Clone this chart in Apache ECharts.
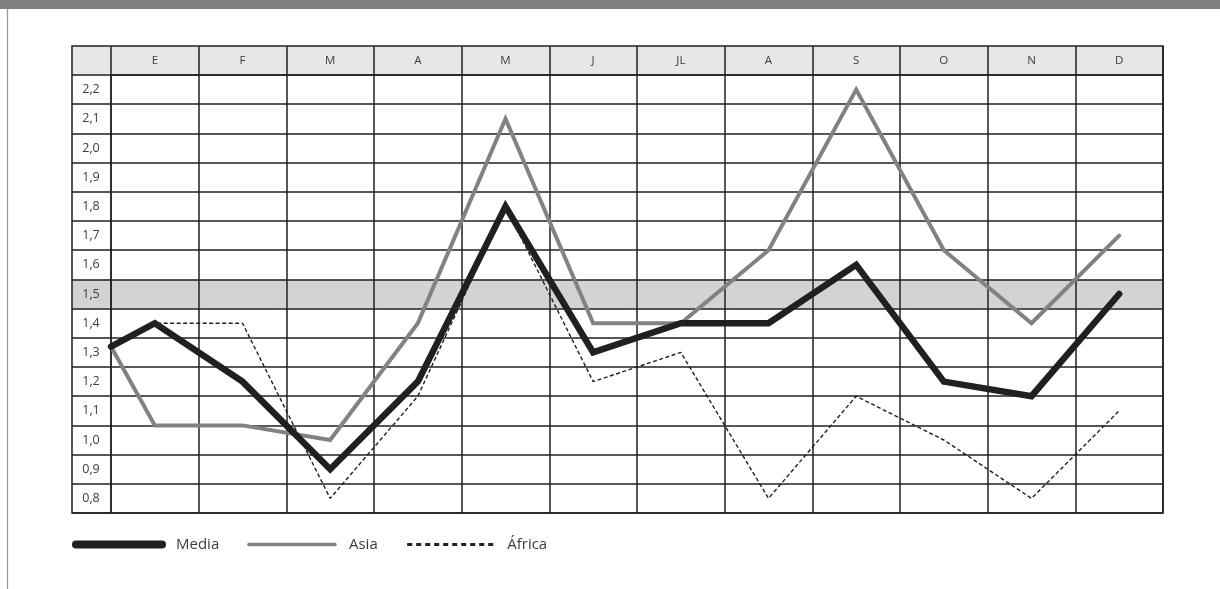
<!DOCTYPE html>
<html>
<head>
<meta charset="utf-8">
<script src="https://cdn.jsdelivr.net/npm/echarts@6/dist/echarts.min.js"></script>
<style>
html,body{margin:0;padding:0;background:#fff;}
#c{width:1220px;height:589px;}
</style>
</head>
<body>
<div id="c"></div>
<script>
// ---- data ----
var months = ['E','F','M','A','M','J','JL','A','S','O','N','D'];
var yLabels = ['0,8','0,9','1,0','1,1','1,2','1,3','1,4','1,5','1,6','1,7','1,8','1,9','2,0','2,1','2,2'];
var seriesNames = ['Media','Asia','África'];
// value at the start of the year (left edge of first column)
var startMedia = 1.32;
var startAsia = 1.32;
var startAfrica = 1.32;
var media  = [1.4, 1.2, 0.9, 1.2, 1.8, 1.3, 1.4, 1.4, 1.6, 1.2, 1.15, 1.5];
var asia   = [1.05, 1.05, 1.0, 1.4, 2.1, 1.4, 1.4, 1.65, 2.2, 1.65, 1.4, 1.7];
var africa = [1.4, 1.4, 0.8, 1.15, 1.8, 1.2, 1.3, 0.8, 1.15, 1.0, 0.8, 1.1];
var highlightValue = 1.5;

function toPairs(start, arr) {
  var out = [[0, start]];
  for (var i = 0; i < arr.length; i++) out.push([i + 0.5, arr[i]]);
  return out;
}

var FONT = '"Open Sans", "Noto Sans", sans-serif';
var LINE = '#231f20';
var HIDDEN = {color: 'rgba(0,0,0,0)', borderWidth: 0, opacity: 0};

var chart = echarts.init(document.getElementById('c'), null, {renderer: 'canvas'});
var option = {
  animation: false,
  backgroundColor: '#ffffff',
  graphic: [
    {type: 'rect', shape: {x: 0, y: 0, width: 1220, height: 9}, style: {fill: '#808080'}, silent: true},
    {type: 'line', shape: {x1: 7.5, y1: 9, x2: 7.5, y2: 589}, style: {stroke: '#9a9a9a', lineWidth: 1.3}, silent: true}
  ],
  grid: [
    {left: 72, top: 46, width: 1091, height: 467, show: true, backgroundColor: 'transparent',
     borderColor: LINE, borderWidth: 1.5, z: 2},
    {left: 111, top: 75, width: 1052, height: 438, show: false}
  ],
  xAxis: [
    {type: 'value', gridIndex: 0, min: 0, max: 1, show: false},
    {type: 'category', gridIndex: 1, position: 'top', data: months, boundaryGap: true, z: 2,
     axisLine: {show: true, lineStyle: {color: LINE, width: 1.5}},
     axisTick: {show: true, interval: 0, length: 29, inside: false, lineStyle: {color: LINE, width: 1.5}},
     axisLabel: {show: true, interval: 0, margin: 14.5, verticalAlign: 'middle', color: '#3c3c3c',
                 fontFamily: FONT, fontSize: 11.5},
     splitLine: {show: true, interval: 0, lineStyle: {color: LINE, width: 1.5}}},
    {type: 'value', gridIndex: 1, position: 'bottom', min: 0, max: 12, show: false}
  ],
  yAxis: [
    {type: 'value', gridIndex: 0, min: 0.75, max: 2.35, show: false},
    {type: 'category', gridIndex: 1, position: 'left', data: yLabels, boundaryGap: true, z: 2,
     axisLine: {show: true, lineStyle: {color: LINE, width: 1.5}},
     axisTick: {show: true, interval: 0, length: 39, inside: false, lineStyle: {color: LINE, width: 1.5}},
     axisLabel: {show: true, interval: 0, margin: 20, align: 'center', color: '#3c3c3c',
                 fontFamily: FONT, fontSize: 12.5},
     splitLine: {show: true, interval: 0, lineStyle: {color: LINE, width: 1.5}}},
    {type: 'value', gridIndex: 1, position: 'right', min: 0.75, max: 2.25, show: false}
  ],
  legend: {
    left: 67, top: 532, orient: 'horizontal',
    itemWidth: 86, itemHeight: 10, itemGap: 28,
    textStyle: {fontFamily: FONT, fontSize: 15, color: '#3c3c3c', padding: [0, 0, 0, 9]},
    data: [
      {name: 'Media', itemStyle: HIDDEN, lineStyle: {width: 8, cap: 'round', color: LINE}},
      {name: 'Asia', itemStyle: HIDDEN, lineStyle: {width: 3.5, cap: 'round', color: '#808285'}},
      {name: 'África', itemStyle: HIDDEN, lineStyle: {width: 3, type: [5, 4], color: LINE}}
    ],
    selectedMode: false
  },
  series: [
    {
      name: '_frame', type: 'line', xAxisIndex: 0, yAxisIndex: 0, data: [], z: 1, silent: true,
      markArea: {
        silent: true,
        data: [
          [{xAxis: 0, yAxis: 2.25, itemStyle: {color: '#e6e7e8'}}, {xAxis: 1, yAxis: 2.35}],
          [{xAxis: 0, yAxis: highlightValue - 0.05, itemStyle: {color: '#d1d3d4'}}, {xAxis: 1, yAxis: highlightValue + 0.05}]
        ]
      }
    },
    {
      name: seriesNames[2], type: 'line', xAxisIndex: 2, yAxisIndex: 2, z: 3,
      data: toPairs(startAfrica, africa), symbol: 'none',
      lineStyle: {color: LINE, width: 1.4, type: [4, 2.5]}, itemStyle: {color: LINE}
    },
    {
      name: seriesNames[1], type: 'line', xAxisIndex: 2, yAxisIndex: 2, z: 4,
      data: toPairs(startAsia, asia), symbol: 'none',
      lineStyle: {color: '#808285', width: 4, join: 'miter', cap: 'round'}, itemStyle: {color: '#808285'}
    },
    {
      name: seriesNames[0], type: 'line', xAxisIndex: 2, yAxisIndex: 2, z: 5,
      data: toPairs(startMedia, media), symbol: 'none',
      lineStyle: {color: LINE, width: 6.5, join: 'miter', cap: 'round'}, itemStyle: {color: LINE}
    }
  ]
};
chart.setOption(option);
</script>
</body>
</html>
